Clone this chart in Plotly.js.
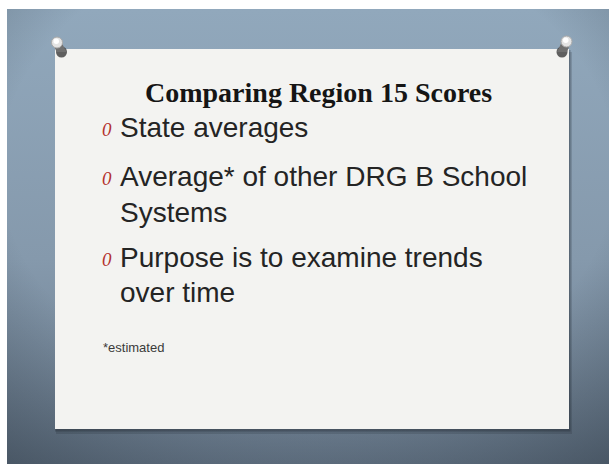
<!DOCTYPE html>
<html>
<head>
<meta charset="utf-8">
<script src="https://cdn.plot.ly/plotly-3.0.1.min.js"></script>
<style>html,body{margin:0;padding:0;background:#fff;}#chart{width:609px;height:464px;}</style>
</head>
<body>
<div id="chart"></div>
<script>
// ---- content (text of the slide) ----
const slideTitle = "Comparing Region 15 Scores";
const bulletLines = [["State averages"], ["Average* of other DRG B School", "Systems"], ["Purpose is to examine trends", "over time"]];
const footnote = "*estimated";

// ---- layout geometry (pixels) ----
const W = 609, H = 464;
const card = {x0: 55, y0: 49, x1: 569, y1: 429};
const textX = 118, bulletX = 107;
const lineCenters = [[127], [176.5, 212], [257, 292.5]];

const bgSvg = "<svg xmlns='http://www.w3.org/2000/svg' width='602' height='455'>" +
  "<defs><linearGradient id='g' x1='0' y1='0' x2='0' y2='1'>" +
  "<stop offset='0' stop-color='#91a8bc'/><stop offset='0.55' stop-color='#8599ac'/><stop offset='1' stop-color='#6a7b8d'/></linearGradient>" +
  "<radialGradient id='v' cx='0.5' cy='0.35' r='0.85'>" +
  "<stop offset='0.6' stop-color='#1a232c' stop-opacity='0'/><stop offset='1' stop-color='#1a232c' stop-opacity='0.45'/></radialGradient></defs>" +
  "<rect width='602' height='455' fill='url(#g)'/><rect width='602' height='455' fill='url(#v)'/></svg>";

const shapes = [];
// card shadow
shapes.push({type:'rect', xref:'x', yref:'y', x0:card.x0+1, y0:card.y0+3, x1:card.x1+3, y1:card.y1+5, fillcolor:'rgba(20,25,30,0.16)', line:{width:0}});
shapes.push({type:'rect', xref:'x', yref:'y', x0:card.x0, y0:card.y0+1, x1:card.x1+1.5, y1:card.y1+2.5, fillcolor:'rgba(20,25,30,0.26)', line:{width:0}});
// card
shapes.push({type:'rect', xref:'x', yref:'y', x0:card.x0, y0:card.y0, x1:card.x1, y1:card.y1, fillcolor:'#f3f3f1', line:{width:0}});
// pins
const pins = [{hx:57, hy:42.5, sx:61.5, sy:52}, {hx:566.5, hy:41.5, sx:562, sy:52}];
pins.forEach(p => {
  shapes.push({type:'circle', xref:'x', yref:'y', x0:p.sx-5.5, y0:p.sy-5.5, x1:p.sx+5.5, y1:p.sy+5.5, fillcolor:'rgba(45,45,45,0.75)', line:{width:0}});
  shapes.push({type:'path', xref:'x', yref:'y', path:`M ${p.hx-4.5} ${p.hy} L ${p.hx+4.5} ${p.hy} L ${p.sx+5} ${p.sy} L ${p.sx-5} ${p.sy} Z`, fillcolor:'#707070', line:{width:0}});
  shapes.push({type:'circle', xref:'x', yref:'y', x0:p.hx-5.5, y0:p.hy-5.5, x1:p.hx+5.5, y1:p.hy+5.5, fillcolor:'#e4e4e4', line:{color:'#a9a9a9', width:1}});
  shapes.push({type:'circle', xref:'x', yref:'y', x0:p.hx-3.5, y0:p.hy-4, x1:p.hx+2, y1:p.hy+1.5, fillcolor:'#ffffff', line:{width:0}});
});

const annotations = [];
annotations.push({text:'<b>'+slideTitle+'</b>', x:318, y:92.5, xref:'x', yref:'y', xanchor:'center', yanchor:'middle', showarrow:false,
  font:{family:'Liberation Serif', size:28, color:'#151515'}});
bulletLines.forEach((lines, i) => {
  const ys = lineCenters[i];
  annotations.push({text:'<i>0</i>', x:bulletX, y:ys[0]+2, xref:'x', yref:'y', xanchor:'center', yanchor:'middle', showarrow:false,
    font:{family:'Liberation Serif', size:19, color:'#b3322e'}});
  lines.forEach((ln, j) => {
    annotations.push({text:ln, x:textX, y:ys[j], xref:'x', yref:'y', xanchor:'left', yanchor:'middle', showarrow:false,
      font:{family:'Liberation Sans', size:28, color:'#242424'}});
  });
});
annotations.push({text:footnote, x:101, y:347, xref:'x', yref:'y', xanchor:'left', yanchor:'middle', showarrow:false,
  font:{family:'Liberation Sans', size:13, color:'#3a3a3a'}});

const layout = {
  width: W, height: H,
  margin: {l:0, r:0, t:0, b:0},
  paper_bgcolor: '#ffffff', plot_bgcolor: 'rgba(0,0,0,0)',
  xaxis: {range:[0, W], visible:false, fixedrange:true},
  yaxis: {range:[H, 0], visible:false, fixedrange:true},
  showlegend: false,
  images: [{source:'data:image/svg+xml;charset=utf-8,' + encodeURIComponent(bgSvg), xref:'x', yref:'y', x:7, y:9, sizex:602, sizey:455,
    xanchor:'left', yanchor:'top', sizing:'stretch', layer:'below'}],
  shapes: shapes,
  annotations: annotations
};
Plotly.newPlot('chart', [], layout, {displayModeBar:false, staticPlot:true});
</script>
</body>
</html>
